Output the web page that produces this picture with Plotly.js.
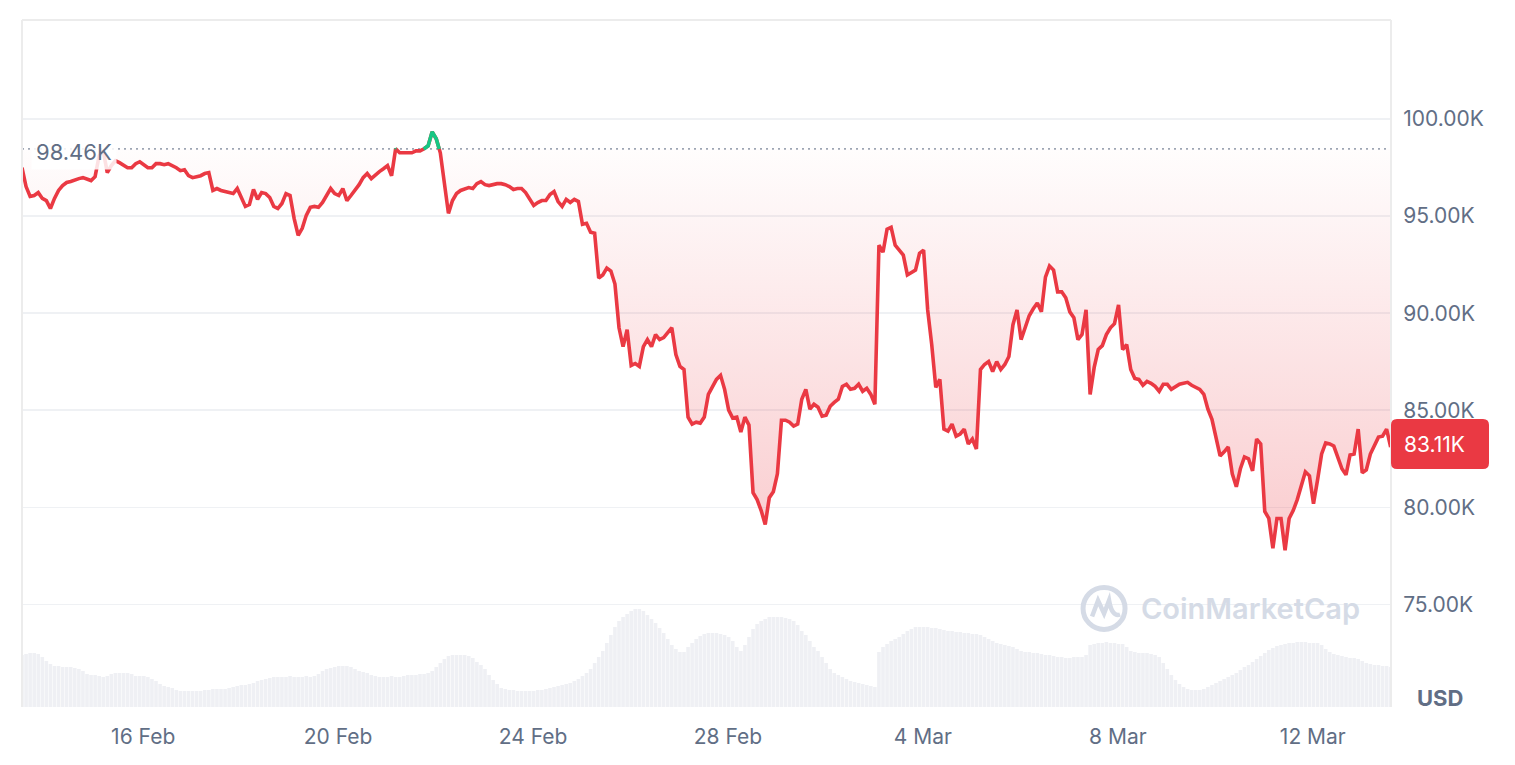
<!DOCTYPE html>
<html>
<head>
<meta charset="utf-8">
<script src="https://cdn.plot.ly/plotly-3.0.1.min.js"></script>
<style>
  html, body { margin: 0; padding: 0; background: #ffffff; }
  #chart { width: 1515px; height: 765px; }
</style>
</head>
<body>
<div id="chart"></div>
<script>
// ---------------- DATA ----------------
// BTC / USD, one sample every 2 hours starting 13 Feb 2025 12:20
const SERIES_START = '2025-02-13T12:20:00';
const STEP_HOURS = 2;
const RANGE_END = '2025-03-13T14:30:00';

// reference (open) price drawn as the dotted line
const REF_PRICE = 98460;

// price in USD
const prices = [
  97490, 96520, 96010, 96060, 96210, 95910, 95800, 95390, 95910, 96320,
  96570, 96730, 96780, 96880, 96930, 96980, 96880, 96830, 97030, 98110,
  98360, 97240, 97600, 97850, 97750, 97600, 97490, 97490, 97700, 97800,
  97650, 97490, 97490, 97700, 97700, 97650, 97700, 97600, 97490, 97340,
  97390, 97080, 96980, 97030, 97080, 97190, 97240, 96320, 96420, 96320,
  96260, 96210, 96160, 96420, 95960, 95500, 95600, 96370, 95860, 96210,
  96160, 95960, 95500, 95390, 95650, 96160, 96060, 94880, 94010, 94370,
  95040, 95450, 95500, 95450, 95700, 96060, 96420, 96160, 96060, 96420,
  95800, 96060, 96320, 96620, 96980, 97190, 96930, 97130, 97290, 97440,
  97600, 97080, 98470, 98260, 98260, 98260, 98260, 98360, 98360, 98470,
  98620, 99340, 98980, 98260, 96570, 95140, 95800, 96160, 96320, 96420,
  96470, 96420, 96670, 96780, 96620, 96570, 96620, 96670, 96670, 96620,
  96520, 96370, 96420, 96420, 96210, 95910, 95550, 95700, 95800, 95800,
  96110, 96260, 95750, 95500, 95860, 95700, 95860, 95750, 94580, 94630,
  94170, 94120, 91810, 91970, 92320, 92170, 91500, 89250, 88280, 89150,
  87310, 87410, 87260, 88280, 88640, 88280, 88900, 88640, 88740, 89000,
  89250, 87870, 87260, 87100, 84650, 84290, 84390, 84340, 84650, 85820,
  86230, 86590, 86800, 86080, 85010, 84600, 84650, 83880, 84650, 84240,
  80760, 80400, 79840, 79120, 80500, 80810, 81730, 84490, 84490, 84390,
  84190, 84290, 85570, 86080, 85060, 85310, 85160, 84700, 84750, 85210,
  85410, 85570, 86230, 86340, 86080, 86130, 86340, 85980, 86130, 85820,
  85310, 93500, 93140, 94320, 94420, 93500, 93250, 92990, 91970, 92120,
  92220, 93090, 93250, 90170, 88380, 86180, 86590, 84030, 83930, 84290,
  83670, 83780, 84030, 83270, 83520, 83010, 87100, 87360, 87510, 87000,
  87510, 87100, 87360, 87770, 89410, 90170, 88640, 89250, 89870, 90230,
  90530, 90070, 91860, 92430, 92220, 91100, 91100, 90790, 90070, 89770,
  88640, 88900, 90170, 85820, 87210, 88130, 88330, 88900, 89250, 89460,
  90430, 88130, 88380, 87100, 86640, 86590, 86290, 86490, 86390, 86230,
  85980, 86340, 86340, 86080, 86230, 86340, 86390, 86440, 86290, 86180,
  86080, 85820, 85060, 84540, 83620, 82650, 82860, 83110, 81730, 81060,
  81990, 82600, 82500, 81880, 83520, 83270, 79790, 79430, 77890, 79430,
  79430, 77790, 79430, 79840, 80400, 81120, 81830, 81630, 80190, 81420,
  82750, 83320, 83270, 83160, 82500, 81990, 81680, 82700, 82750, 84030,
  81780, 81930, 82750, 83210, 83620, 83670, 84030, 83110
];

// trading volume (relative units, same 2-hour samples)
const volume = [
  52, 53, 54, 54, 53, 50, 46, 43, 41, 41,
  40, 40, 40, 39, 38, 36, 33, 32, 32, 31,
  30, 31, 33, 34, 34, 34, 34, 33, 31, 31,
  31, 30, 28, 26, 23, 21, 20, 19, 17, 16,
  16, 16, 16, 16, 16, 17, 17, 18, 18, 18,
  18, 19, 20, 21, 22, 22, 23, 24, 26, 27,
  28, 29, 30, 30, 30, 30, 31, 30, 30, 30,
  31, 30, 31, 33, 36, 38, 39, 40, 41, 41,
  41, 40, 38, 36, 35, 34, 32, 31, 30, 30,
  30, 31, 30, 30, 31, 32, 32, 32, 33, 33,
  34, 36, 40, 44, 48, 51, 52, 52, 52, 52,
  51, 49, 45, 42, 38, 32, 27, 23, 19, 18,
  17, 17, 16, 16, 16, 16, 16, 17, 17, 18,
  19, 20, 21, 22, 23, 24, 26, 28, 31, 34,
  38, 44, 50, 56, 64, 72, 80, 86, 90, 93,
  96, 98, 98, 96, 92, 88, 84, 79, 74, 68,
  62, 58, 55, 55, 60, 64, 68, 71, 73, 74,
  74, 74, 73, 72, 70, 66, 60, 56, 62, 70,
  78, 83, 86, 88, 90, 90, 90, 90, 89, 88,
  86, 82, 76, 72, 66, 60, 56, 50, 44, 38,
  34, 32, 30, 28, 26, 25, 24, 23, 22, 21,
  20, 55, 60, 63, 66, 68, 70, 73, 76, 78,
  80, 80, 80, 80, 79, 79, 78, 77, 76, 76,
  75, 75, 74, 74, 73, 73, 72, 70, 68, 66,
  64, 63, 62, 61, 60, 58, 56, 55, 55, 54,
  54, 53, 52, 52, 51, 50, 50, 49, 49, 50,
  50, 50, 52, 62, 63, 64, 64, 65, 64, 64,
  63, 63, 60, 56, 55, 54, 54, 54, 53, 52,
  50, 44, 38, 32, 27, 23, 20, 18, 17, 17,
  17, 18, 20, 22, 24, 26, 28, 30, 32, 34,
  37, 40, 42, 45, 48, 51, 54, 57, 59, 61,
  62, 63, 64, 64, 65, 65, 65, 64, 64, 64,
  62, 58, 55, 53, 52, 51, 50, 49, 49, 48,
  46, 44, 43, 42, 42, 41, 41, 40
];

// y-axis tick values (USD)
const yTickVals = [75000, 80000, 85000, 90000, 95000, 100000];

// ---------------- STYLE ----------------
const RED = '#ea3943';
const GREEN = '#16c784';
const LABEL = '#616e85';
const GRID = '#eff1f4';
const VOL = '#eff0f4';
const WATERMARK = '#d5dbe6';
const FONT = 'Inter, "Noto Sans", sans-serif';

// ---------------- BUILD ----------------
const t0 = new Date(SERIES_START + 'Z').getTime();
const stepMs = STEP_HOURS * 3600 * 1000;
function iso(ms) { return new Date(ms).toISOString().replace('Z', ''); }
const tms = prices.map((_, i) => t0 + i * stepMs);
const times = tms.map(iso);
const volTimes = volume.map((_, i) => iso(t0 + i * stepMs));
const lastPrice = prices[prices.length - 1];

// green segments where price is above the reference price (with crossings)
const gx = [], gy = [];
for (let i = 0; i < prices.length; i++) {
  const p = prices[i];
  if (i > 0) {
    const q = prices[i - 1];
    if ((q < REF_PRICE) !== (p < REF_PRICE)) {
      const f = (REF_PRICE - q) / (p - q);
      gx.push(iso(tms[i - 1] + f * (tms[i] - tms[i - 1])));
      gy.push(REF_PRICE);
      if (p < REF_PRICE) { gx.push(iso(tms[i])); gy.push(null); }
    }
  }
  if (p >= REF_PRICE) { gx.push(times[i]); gy.push(p); }
}

const fmtK = v => (v / 1000).toFixed(2) + 'K';

const traces = [
  {
    type: 'bar', x: volTimes, y: volume, yaxis: 'y2',
    marker: { color: VOL, line: { width: 0 } },
    hoverinfo: 'skip'
  },
  {
    type: 'scatter', mode: 'lines',
    x: [times[0], times[times.length - 1]], y: [REF_PRICE, REF_PRICE],
    line: { color: '#9ea6b4', width: 1.6, dash: '2px,4px' },
    hoverinfo: 'skip'
  },
  {
    type: 'scatter', mode: 'lines', x: times, y: prices,
    line: { color: RED, width: 3.6, shape: 'linear' },
    fill: 'tonexty',
    fillgradient: {
      type: 'vertical', start: 77000, stop: REF_PRICE,
      colorscale: [[0, 'rgba(234,57,67,0.27)'], [1, 'rgba(234,57,67,0.01)']]
    }
  },
  {
    type: 'scatter', mode: 'lines', x: gx, y: gy,
    line: { color: GREEN, width: 3.6 }, connectgaps: false,
    hoverinfo: 'skip'
  }
];

const layout = {
  width: 1515, height: 765,
  margin: { l: 22, r: 124, t: 20, b: 58, pad: 0 },
  paper_bgcolor: '#ffffff', plot_bgcolor: '#ffffff',
  showlegend: false,
  bargap: 0.12,
  font: { family: FONT, size: 21, color: LABEL },
  xaxis: {
    type: 'date', range: [times[0], RANGE_END],
    tick0: '2025-02-16', dtick: 4 * 86400000, tickformat: '%-d %b',
    showgrid: false, zeroline: false, showline: false,
    ticks: 'outside', ticklen: 11, tickcolor: 'rgba(0,0,0,0)',
    tickfont: { family: FONT, size: 21, color: LABEL },
    fixedrange: true
  },
  yaxis: {
    side: 'right', range: [69722, 105098],
    tickvals: yTickVals, ticktext: yTickVals.map(fmtK),
    showgrid: true, gridcolor: GRID, gridwidth: 1.6,
    zeroline: false, showline: false,
    ticks: 'outside', ticklen: 7, tickcolor: 'rgba(0,0,0,0)',
    tickfont: { family: FONT, size: 21, color: LABEL },
    fixedrange: true
  },
  yaxis2: { overlaying: 'y', range: [0, 687], visible: false, fixedrange: true },
  shapes: [
    { type: 'line', xref: 'paper', yref: 'paper', x0: 0, x1: 0, y0: 0, y1: 1, line: { color: '#ececec', width: 2 } },
    { type: 'line', xref: 'paper', yref: 'paper', x0: 0, x1: 1, y0: 1, y1: 1, line: { color: '#ececec', width: 2 } },
    { type: 'line', xref: 'paper', yref: 'paper', x0: 1, x1: 1, y0: 0, y1: 1, line: { color: '#ececec', width: 2 } },
    // current price tag
    {
      type: 'path', xref: 'paper', yref: 'y', xsizemode: 'pixel', ysizemode: 'pixel',
      xanchor: 1, yanchor: lastPrice,
      path: 'M 6 -22 L 92 -22 Q 98 -22 98 -16 L 98 22 Q 98 28 92 28 L 6 28 Q 0 28 0 22 L 0 -16 Q 0 -22 6 -22 Z',
      fillcolor: RED, line: { width: 0 }, layer: 'above'
    },
    // watermark logo
    {
      type: 'circle', xref: 'paper', yref: 'paper', xsizemode: 'pixel', ysizemode: 'pixel',
      xanchor: 0.7904, yanchor: 0.1434, x0: -21, x1: 21, y0: -21, y1: 21,
      line: { color: WATERMARK, width: 5 }, fillcolor: 'rgba(0,0,0,0)', layer: 'above'
    },
    {
      type: 'path', xref: 'paper', yref: 'paper', xsizemode: 'pixel', ysizemode: 'pixel',
      xanchor: 0.7904, yanchor: 0.1434,
      path: 'M -12 -8 L -6 8 L 0 -5 L 5 8 Q 8 -9 16 -6',
      line: { color: WATERMARK, width: 4.5 }, layer: 'above'
    }
  ],
  annotations: [
    {
      xref: 'paper', yref: 'y', x: 0, y: REF_PRICE, xanchor: 'left', yanchor: 'middle',
      xshift: 9, yshift: -3, text: fmtK(REF_PRICE), showarrow: false,
      font: { family: FONT, size: 22, color: LABEL },
      bgcolor: 'rgba(255,255,255,0.85)', borderpad: 4
    },
    {
      xref: 'paper', yref: 'y', x: 1, y: lastPrice, xanchor: 'left', yanchor: 'middle',
      xshift: 11, yshift: 3, text: fmtK(lastPrice), showarrow: false,
      font: { family: FONT, size: 21, color: '#ffffff' }
    },
    {
      xref: 'paper', yref: 'paper', x: 1, y: 0, xanchor: 'left', yanchor: 'bottom',
      xshift: 24, yshift: -6, text: '<b>USD</b>', showarrow: false,
      font: { family: FONT, size: 22, color: LABEL }
    },
    {
      xref: 'paper', yref: 'paper', x: 0.8977, y: 0.1434, xanchor: 'center', yanchor: 'middle',
      text: 'CoinMarketCap', showarrow: false,
      font: { family: FONT, size: 29, color: WATERMARK, weight: 600 }
    }
  ]
};

Plotly.newPlot('chart', traces, layout, { displayModeBar: false, staticPlot: true });
</script>
</body>
</html>
